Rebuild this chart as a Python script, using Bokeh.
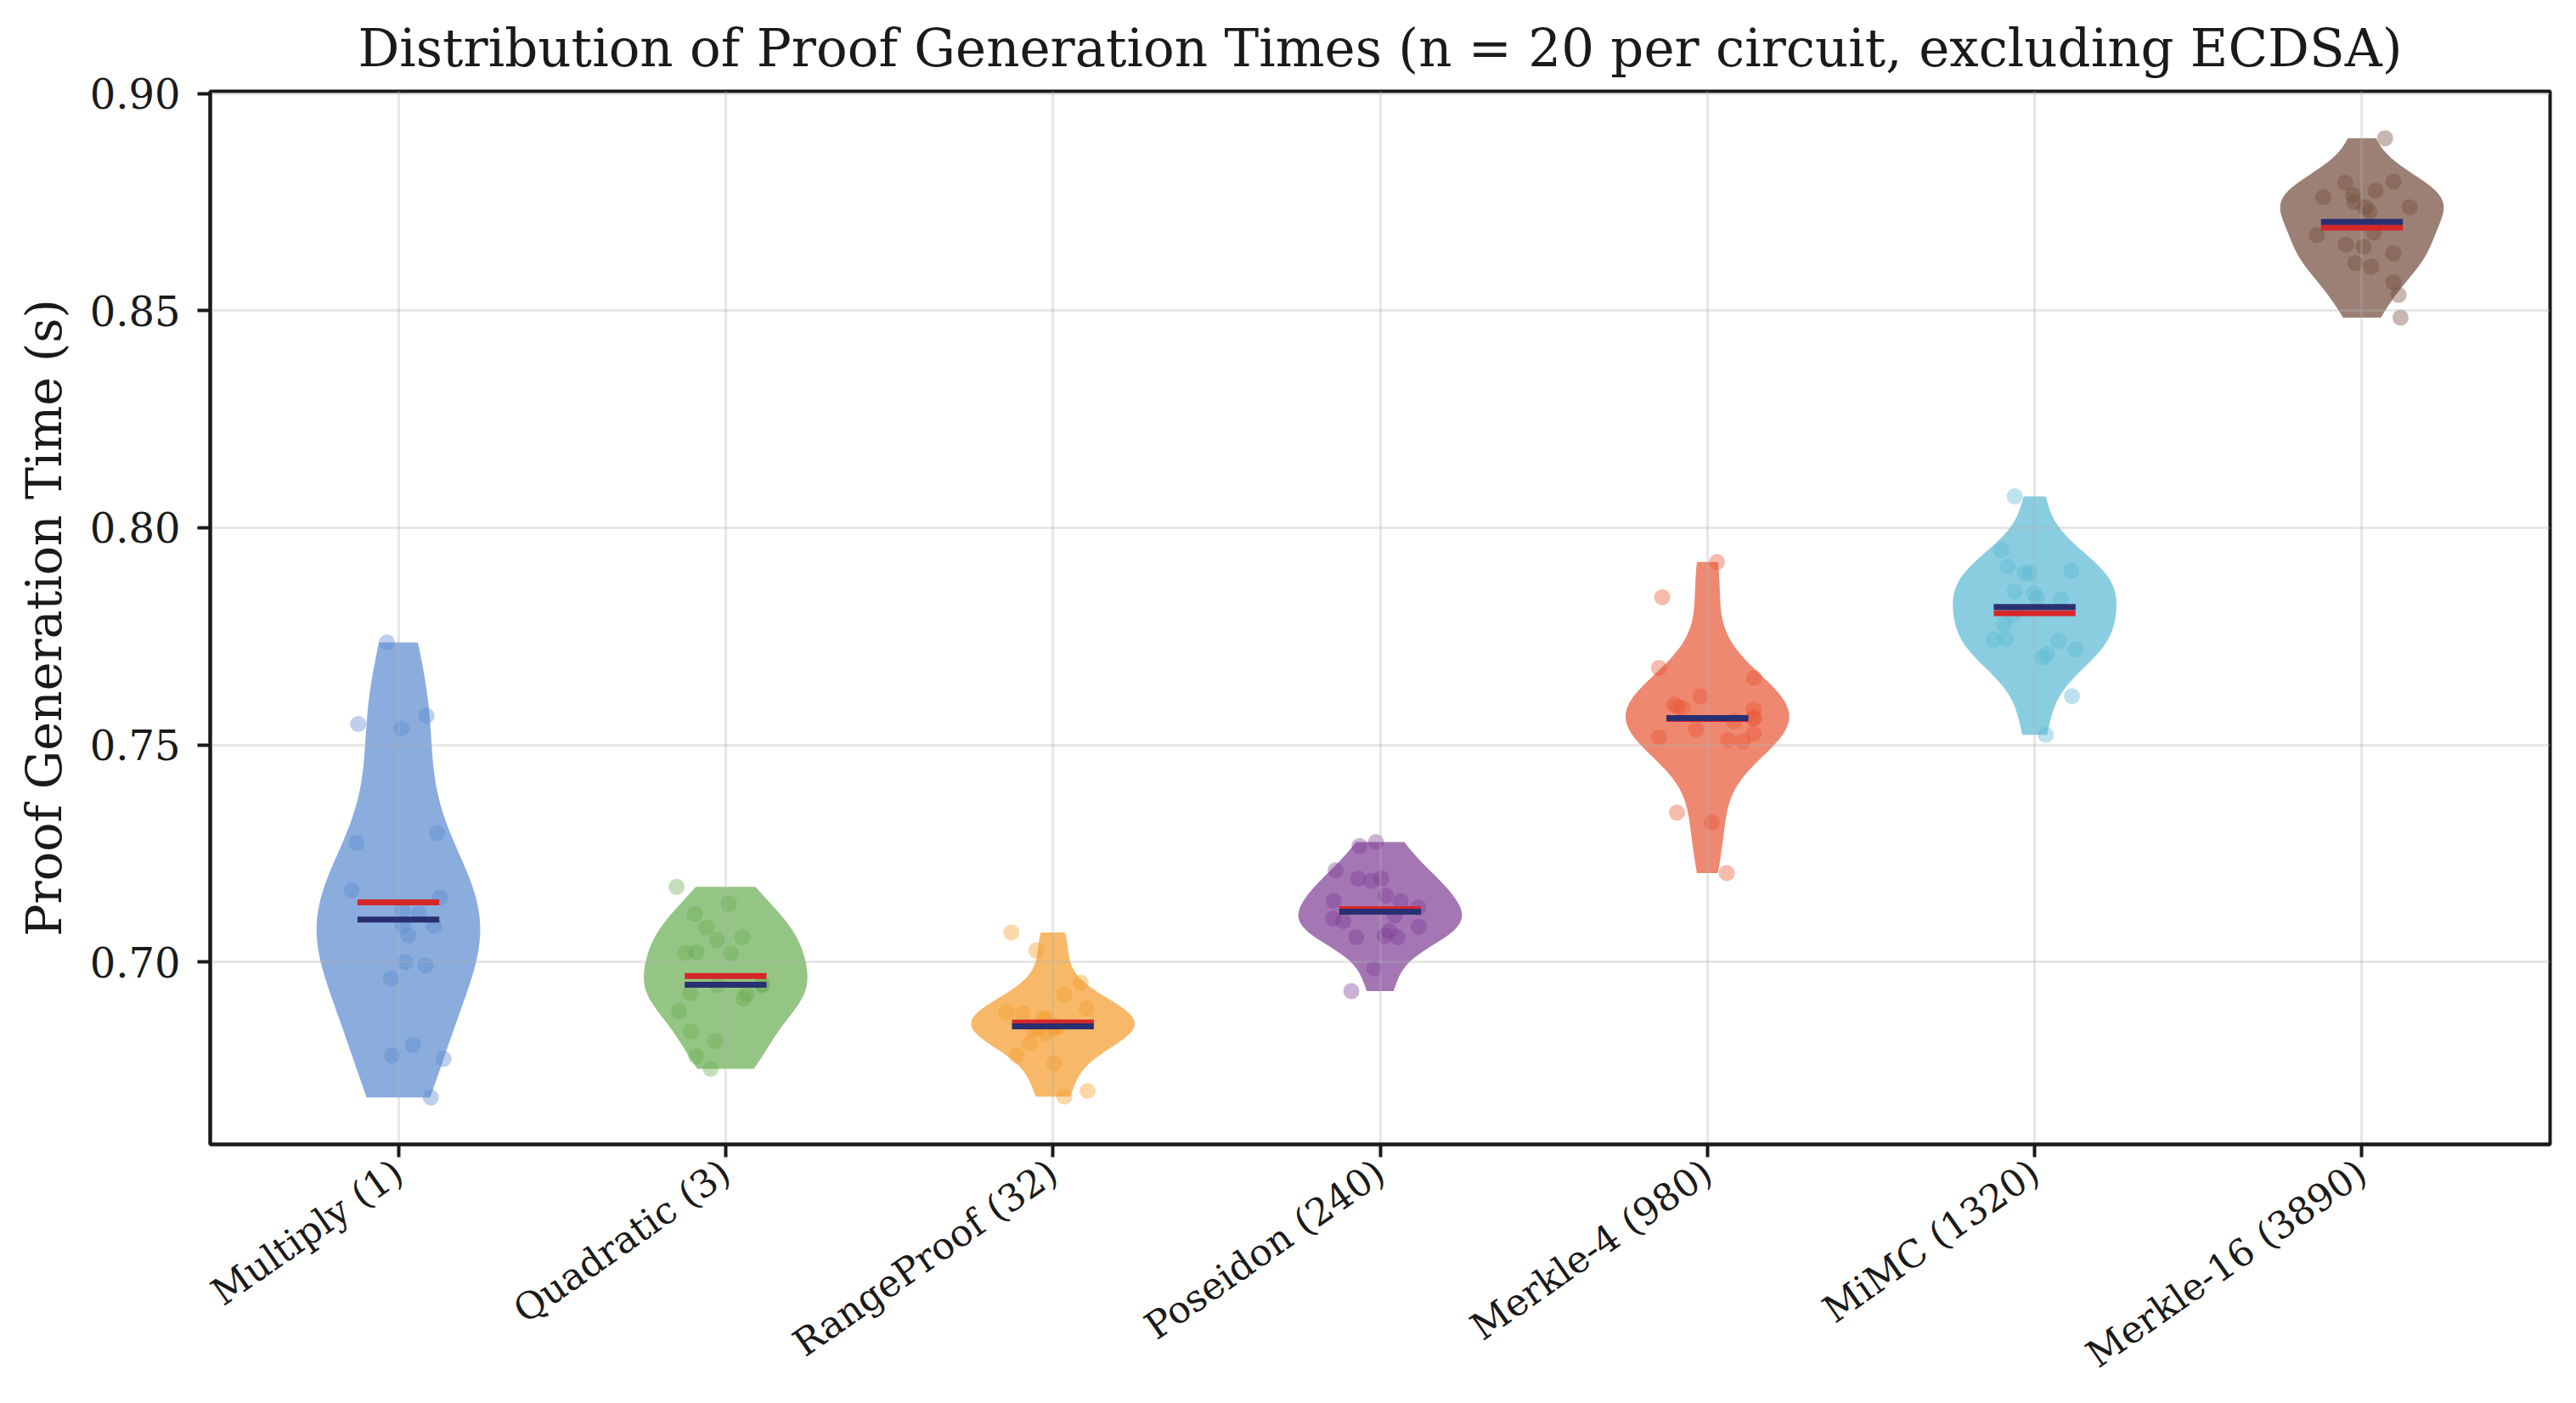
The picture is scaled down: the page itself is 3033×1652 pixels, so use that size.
import math
import numpy as np
from bokeh.plotting import figure
from bokeh.models import FixedTicker, PrintfTickFormatter, Range1d
from bokeh.embed import file_html
from bokeh.resources import INLINE

# circuits with constraint counts, one violin each (n = 20 runs)
circuits = ["Multiply (1)", "Quadratic (3)", "RangeProof (32)", "Poseidon (240)",
            "Merkle-4 (980)", "MiMC (1320)", "Merkle-16 (3890)"]
colors = ["#588ad0", "#68ac51", "#f49b2a", "#7d3d94", "#e85533", "#58b8d3", "#724a3a"]

# proof times in seconds
multiply = [0.7736, 0.7548, 0.7538, 0.7567, 0.7297, 0.7274, 0.7165, 0.7149, 0.7120, 0.7112,
            0.7084, 0.7083, 0.7061, 0.7000, 0.6992, 0.6962, 0.6809, 0.6785, 0.6777, 0.6688]
quadratic = [0.7173, 0.7134, 0.7111, 0.7079, 0.7051, 0.7057, 0.7021, 0.7022, 0.7019, 0.6946,
             0.6946, 0.6928, 0.6926, 0.6916, 0.6886, 0.6840, 0.6818, 0.6783, 0.6754, 0.6949]
rangeproof = [0.7068, 0.7027, 0.6952, 0.6925, 0.6893, 0.6885, 0.6882, 0.6869, 0.6853, 0.6845,
              0.6835, 0.6848, 0.6814, 0.6785, 0.6767, 0.6690, 0.6703, 0.6870, 0.6851, 0.6849]
poseidon = [0.7276, 0.7267, 0.7211, 0.7192, 0.7187, 0.7192, 0.7153, 0.7141, 0.7140, 0.7125,
            0.7107, 0.7100, 0.7095, 0.7081, 0.7071, 0.7060, 0.7057, 0.7057, 0.6985, 0.6933]
merkle4 = [0.7921, 0.7840, 0.7677, 0.7654, 0.7612, 0.7593, 0.7584, 0.7587, 0.7582, 0.7563,
           0.7555, 0.7536, 0.7525, 0.7517, 0.7511, 0.7508, 0.7344, 0.7321, 0.7205, 0.7560]
mimc = [0.8072, 0.7949, 0.7911, 0.7896, 0.7895, 0.7901, 0.7854, 0.7849, 0.7839, 0.7835,
        0.7800, 0.7778, 0.7742, 0.7744, 0.7739, 0.7720, 0.7709, 0.7701, 0.7612, 0.7523]
merkle16 = [0.8897, 0.8797, 0.8795, 0.8776, 0.8766, 0.8761, 0.8750, 0.8738, 0.8738, 0.8729,
            0.8680, 0.8674, 0.8652, 0.8647, 0.8632, 0.8609, 0.8601, 0.8565, 0.8536, 0.8484]

# horizontal jitter of the dots (category units)
multiply_jit = [-0.035, -0.123, 0.009, 0.086, 0.119, -0.128, -0.143, 0.127, 0.013, 0.063,
                0.014, 0.109, 0.031, 0.021, 0.083, -0.023, 0.044, -0.020, 0.138, 0.099]
quadratic_jit = [-0.150, 0.010, -0.094, -0.059, -0.026, 0.051, -0.122, -0.089, 0.016, -0.025,
                 0.112, -0.108, 0.064, 0.054, -0.142, -0.106, -0.032, -0.090, -0.046, 0.110]
rangeproof_jit = [-0.127, -0.051, 0.085, 0.035, 0.103, -0.143, -0.092, -0.020, 0.009, -0.061,
                  -0.022, 0.007, -0.071, -0.110, 0.004, 0.035, 0.106, -0.030, 0.015, -0.045]
poseidon_jit = [-0.013, -0.063, -0.136, -0.067, -0.027, 0.003, 0.017, -0.142, 0.062, 0.117,
                0.045, -0.144, -0.113, 0.118, 0.028, 0.014, 0.053, -0.073, -0.018, -0.088]
merkle4_jit = [0.029, -0.138, -0.148, 0.143, -0.021, -0.102, -0.076, -0.091, 0.141, 0.143,
               0.082, -0.035, 0.141, -0.148, 0.063, 0.109, -0.093, 0.013, 0.059, 0.140]
mimc_jit = [-0.061, -0.102, -0.083, -0.030, -0.015, 0.112, -0.061, -0.003, 0.006, 0.080,
            -0.067, -0.093, -0.125, -0.088, 0.072, 0.125, 0.038, 0.025, 0.114, 0.034]
merkle16_jit = [0.071, 0.097, -0.051, 0.042, -0.027, -0.118, -0.024, 0.010, 0.146, 0.023,
                0.036, -0.138, -0.049, 0.005, 0.096, -0.020, 0.028, 0.096, 0.112, 0.118]

times = [multiply, quadratic, rangeproof, poseidon, merkle4, mimc, merkle16]
jitters = [multiply_jit, quadratic_jit, rangeproof_jit, poseidon_jit, merkle4_jit, mimc_jit, merkle16_jit]

FONT = "DejaVu Serif"
INK = "#1a1a1a"


def violin_outline(vals, pos, half=0.25, npts=100):
    # gaussian kde with scott's rule, cut at the data extremes
    v = np.asarray(vals)
    bw = v.std(ddof=1) * len(v) ** (-0.2)
    ys = np.linspace(v.min(), v.max(), npts)
    dens = np.exp(-0.5 * ((ys[:, None] - v[None, :]) / bw) ** 2).sum(axis=1)
    w = half * dens / dens.max()
    xs = np.concatenate([pos - w, (pos + w)[::-1]])
    return xs, np.concatenate([ys, ys[::-1]])


p = figure(frame_width=2755, frame_height=1240,
           x_range=Range1d(-0.575, 6.575), y_range=Range1d(0.658, 0.9005),
           min_border_left=247, min_border_right=12, min_border_top=107, min_border_bottom=286,
           output_backend="svg", toolbar_location=None,
           title="Distribution of Proof Generation Times (n = 20 per circuit, excluding ECDSA)")

for i, (vals, jit, col) in enumerate(zip(times, jitters, colors)):
    xs, ys = violin_outline(vals, i)
    p.patch(xs, ys, fill_color=col, fill_alpha=0.7, line_color=None, level="image")
    p.scatter(x=[i + j for j in jit], y=vals, size=19, fill_color=col, fill_alpha=0.4,
              line_color=None, level="image")

pos = np.arange(len(times))
means = [np.mean(v) for v in times]
medians = [np.median(v) for v in times]
p.segment(x0=pos - 0.125, x1=pos + 0.125, y0=means, y1=means, line_color="#d62728", line_width=7)
p.segment(x0=pos - 0.125, x1=pos + 0.125, y0=medians, y1=medians, line_color="#283072", line_width=7)

p.title.text_font = FONT
p.title.text_font_size = "61px"
p.title.text_font_style = "normal"
p.title.text_color = INK
p.title.align = "center"
p.title.standoff = 31

p.xaxis.ticker = FixedTicker(ticks=list(range(len(circuits))))
p.xaxis.major_label_overrides = {i: c for i, c in enumerate(circuits)}
p.xaxis.major_label_orientation = math.radians(35)
p.xaxis.major_label_text_font_size = "44px"
p.xaxis.major_label_standoff = 13

p.yaxis.ticker = FixedTicker(ticks=[0.70, 0.75, 0.80, 0.85, 0.90])
p.yaxis.formatter = PrintfTickFormatter(format="%.2f")
p.yaxis.major_label_text_font_size = "48px"
p.yaxis.major_label_standoff = 20
p.yaxis.axis_label = "Proof Generation Time (s)"
p.yaxis.axis_label_text_font_size = "57px"
p.yaxis.axis_label_standoff = 18

for ax in (p.xaxis, p.yaxis):
    ax.major_label_text_font = FONT
    ax.major_label_text_color = INK
    ax.axis_label_text_font = FONT
    ax.axis_label_text_font_style = "normal"
    ax.axis_label_text_color = INK
    ax.axis_line_color = INK
    ax.axis_line_width = 4
    ax.major_tick_line_color = INK
    ax.major_tick_line_width = 4
    ax.major_tick_out = 15
    ax.major_tick_in = 0
    ax.minor_tick_line_color = None

p.grid.grid_line_color = "#b0b0b0"
p.grid.grid_line_alpha = 0.3
p.grid.grid_line_width = 3
p.outline_line_color = INK
p.outline_line_width = 4
p.outline_line_alpha = 1.0

open("out.html", "w").write(file_html(p, INLINE))
